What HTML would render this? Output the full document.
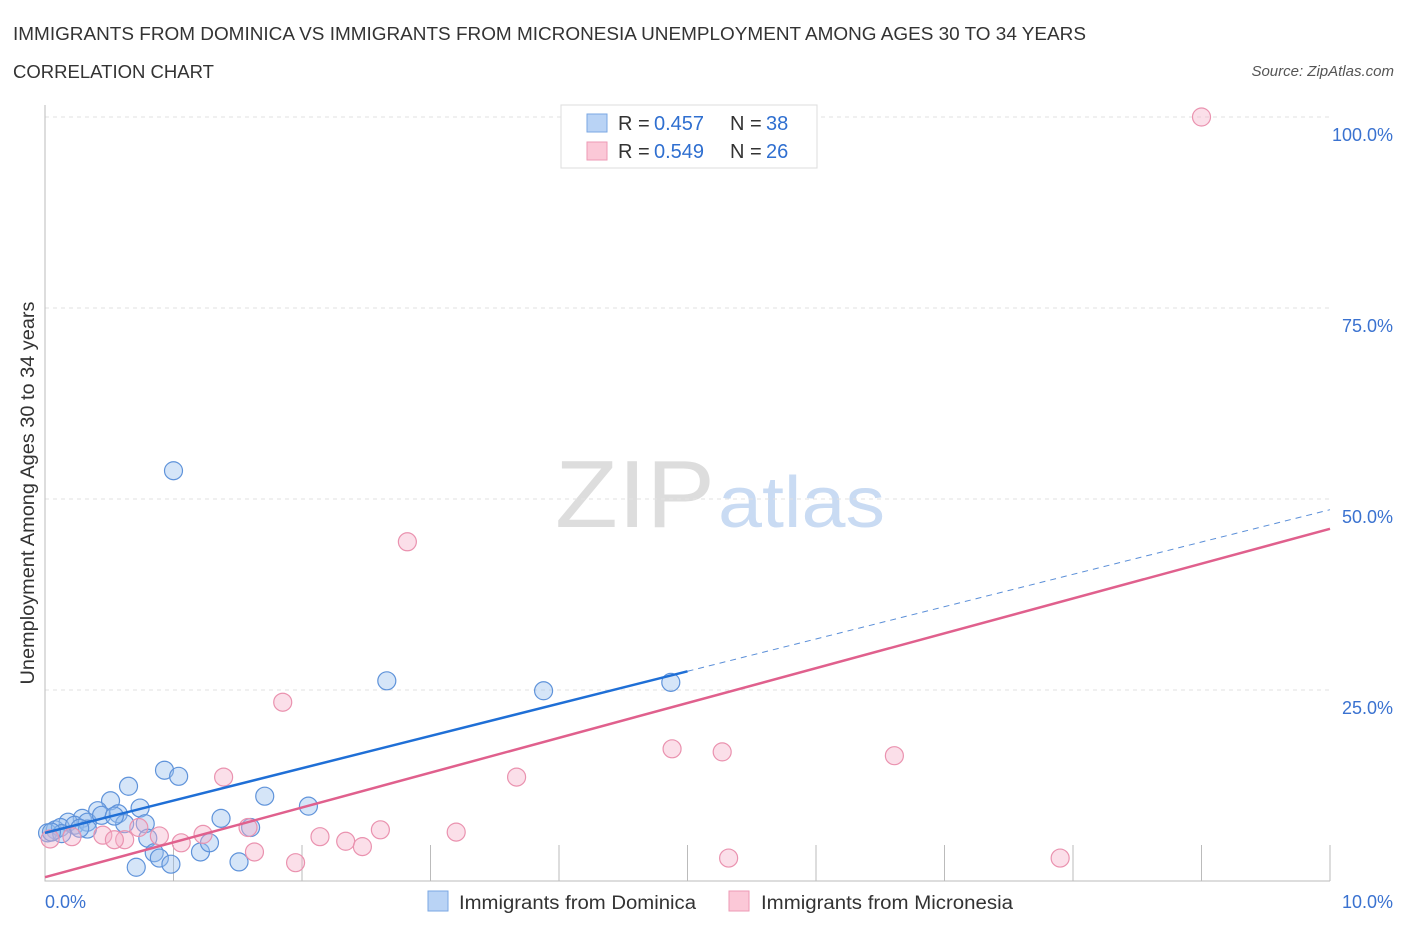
<!DOCTYPE html>
<html><head><meta charset="utf-8"><style>
body{margin:0;background:#fff;font-family:"Liberation Sans",sans-serif;}
svg text{font-family:"Liberation Sans",sans-serif;}
</style></head><body>
<svg id="chart" width="1406" height="930" xmlns="http://www.w3.org/2000/svg">
<text x="13" y="40" font-size="18" fill="#333" textLength="1073" lengthAdjust="spacingAndGlyphs">IMMIGRANTS FROM DOMINICA VS IMMIGRANTS FROM MICRONESIA UNEMPLOYMENT AMONG AGES 30 TO 34 YEARS</text>
<text x="13" y="78" font-size="18" fill="#333" textLength="201" lengthAdjust="spacingAndGlyphs">CORRELATION CHART</text>
<text x="1394" y="76" font-size="15" fill="#555" text-anchor="end" font-style="italic">Source: ZipAtlas.com</text>
<text x="555" y="527" font-size="96" fill="#ddd" font-family="Liberation Serif" textLength="160" lengthAdjust="spacingAndGlyphs">ZIP</text>
<text x="718" y="527" font-size="72" fill="#c9dbf3" textLength="167" lengthAdjust="spacingAndGlyphs">atlas</text>
<text transform="translate(34,493) rotate(-90)" font-size="19" fill="#333" text-anchor="middle" textLength="383" lengthAdjust="spacingAndGlyphs">Unemployment Among Ages 30 to 34 years</text>
<g id="grid"></g><g id="marks"></g>
<g>
<rect x="561" y="105" width="256" height="63" fill="#fff" stroke="#ddd"/>
<rect x="587" y="114" width="20" height="18" fill="#b9d3f5" stroke="#7aa7e3"/>
<rect x="587" y="142" width="20" height="18" fill="#fbc8d7" stroke="#ee9ab4"/>
<text x="618" y="130" font-size="20" fill="#333">R =</text>
<text x="654" y="130" font-size="20" fill="#2f6fd0">0.457</text>
<text x="730" y="130" font-size="20" fill="#333">N =</text>
<text x="766" y="130" font-size="20" fill="#2f6fd0">38</text>
<text x="618" y="158" font-size="20" fill="#333">R =</text>
<text x="654" y="158" font-size="20" fill="#2f6fd0">0.549</text>
<text x="730" y="158" font-size="20" fill="#333">N =</text>
<text x="766" y="158" font-size="20" fill="#2f6fd0">26</text>
</g>
<g>
<rect x="428" y="891" width="20" height="20" fill="#b9d3f5" stroke="#7aa7e3"/>
<text x="459" y="909" font-size="19" fill="#333" textLength="237" lengthAdjust="spacingAndGlyphs">Immigrants from Dominica</text>
<rect x="729" y="891" width="20" height="20" fill="#fbc8d7" stroke="#ee9ab4"/>
<text x="761" y="909" font-size="19" fill="#333" textLength="252" lengthAdjust="spacingAndGlyphs">Immigrants from Micronesia</text>
</g>
</svg>
<script>
const yTicks=[25,50,75,100];
const yTickLabels=["25.0%","50.0%","75.0%","100.0%"];
const xTickCount=[0,1,2,3,4,5,6,7,8,9,10];
const xLabels=["0.0%","10.0%"];
const blueX=[1.00,2.66,3.88,4.87,0.93,1.04,0.65,1.71,2.05,1.37,0.74,0.51,0.41,0.29,0.18,0.08,0.02,0.12,0.23,0.33,0.44,0.57,0.62,0.78,0.80,0.85,0.89,0.98,0.71,1.21,1.28,1.51,1.60,0.33,0.54,0.13,0.05,0.27];
const blueY=[53.7,26.2,24.9,26.0,14.5,13.7,12.4,11.1,9.8,8.2,9.55,10.5,9.2,8.2,7.7,6.7,6.3,7.0,7.3,7.7,8.6,8.8,7.5,7.5,5.6,3.7,3.0,2.2,1.8,3.8,5.0,2.5,7.0,6.8,8.5,6.2,6.4,6.9];
const pinkX=[9.00,2.82,1.85,4.88,5.27,6.61,3.67,1.39,0.45,0.62,0.54,0.73,0.89,1.06,1.23,1.58,1.63,1.95,2.14,2.34,2.47,2.61,3.20,5.32,7.90,0.04,0.21];
const pinkY=[100,44.4,23.4,17.3,16.9,16.4,13.6,13.6,6.0,5.4,5.4,7.0,5.9,5.0,6.1,7.0,3.8,2.4,5.8,5.2,4.5,6.7,6.4,3.0,3.0,5.5,5.8];
const blueTrend=[6.3,48.6]; const blueSolidEnd=5.0;
const pinkTrend=[0.5,46.1];
const X=v=>45+v*128.5, Y=v=>881-v*7.64;
const NS="http://www.w3.org/2000/svg";
function mk(p,t,a){const e=document.createElementNS(NS,t);for(const k in a)e.setAttribute(k,a[k]);p.appendChild(e);return e;}
const g=document.getElementById('grid'), m=document.getElementById('marks');
yTicks.forEach((t,i)=>{
 const l=mk(g,'line',{x1:45,x2:1330,y1:Y(t),y2:Y(t),stroke:'#e2e2e2','stroke-dasharray':'4,4'});
 
 
 const tx=mk(g,'text',{x:1393,y:Y(t)+24,'font-size':18,fill:'#3a72d0','text-anchor':'end'});tx.textContent=yTickLabels[i];
 
 
});
const ax=mk(g,'path',{d:'M45,105V881H1330',fill:'none',stroke:'#bbb'});


xTickCount.forEach(t=>{if(t>0){const l=mk(g,'line',{x1:X(t),x2:X(t),y1:845,y2:881,stroke:'#bbb'});
 
 }});
const xl0=mk(g,'text',{x:45,y:908,'font-size':18,fill:'#3a72d0'});xl0.textContent=xLabels[0];


const xl1=mk(g,'text',{x:1393,y:908,'font-size':18,fill:'#3a72d0','text-anchor':'end'});xl1.textContent=xLabels[1];


blueX.forEach((x,i)=>{const c=mk(m,'circle',{cx:X(x),cy:Y(blueY[i]),r:9,fill:'rgba(150,190,238,0.4)',stroke:'#5f93da','stroke-width':1.2});
 
 });
pinkX.forEach((x,i)=>{const c=mk(m,'circle',{cx:X(x),cy:Y(pinkY[i]),r:9,fill:'rgba(246,175,199,0.4)',stroke:'#ea92af','stroke-width':1.2});
 
 });
const by=x=>blueTrend[0]+(blueTrend[1]-blueTrend[0])*x/10;
const bl=mk(m,'line',{x1:X(0),y1:Y(by(0)),x2:X(blueSolidEnd),y2:Y(by(blueSolidEnd)),stroke:'#1f6fd6','stroke-width':2.5});


const bd=mk(m,'line',{x1:X(blueSolidEnd),y1:Y(by(blueSolidEnd)),x2:X(10),y2:Y(by(10)),stroke:'#5b8fd8','stroke-width':1,'stroke-dasharray':'6,5'});


const pl=mk(m,'line',{x1:X(0),y1:Y(pinkTrend[0]),x2:X(10),y2:Y(pinkTrend[1]),stroke:'#e0608d','stroke-width':2.5});


</script>
</body></html>
